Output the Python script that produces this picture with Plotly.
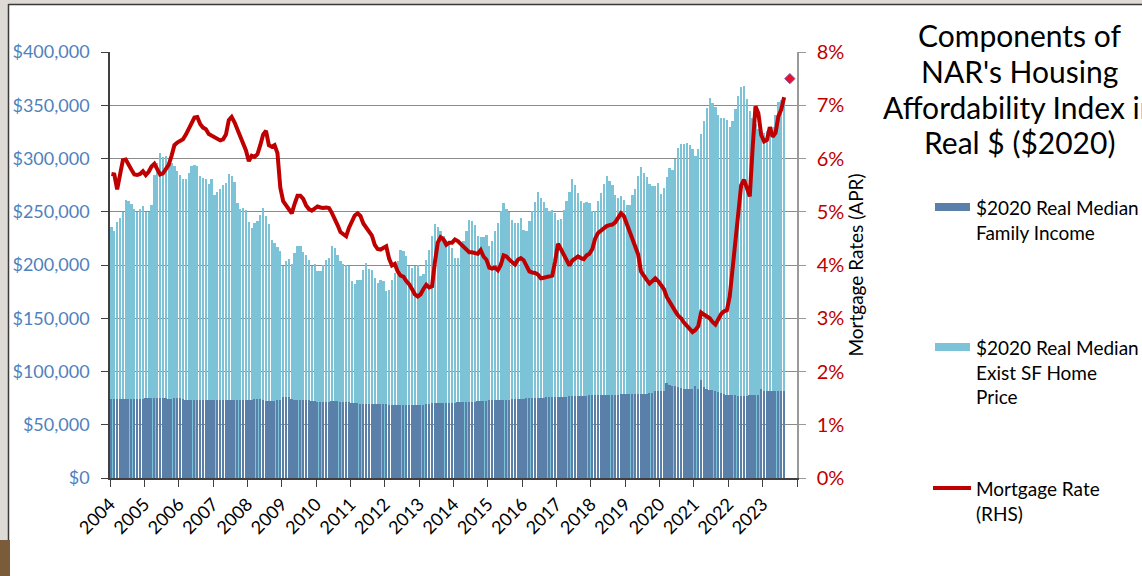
import plotly.graph_objects as go

# ---------------- data (monthly, Jan 2004 .. Aug 2023) ----------------
year_labels = [str(y) for y in range(2004, 2024)]

# $2020 real median existing single-family home price (thousands $)
home_price_k = [
    235.6, 231.9, 240.0, 243.8, 250.0, 260.6, 260.0, 257.5, 252.5, 250.0, 253.0, 255.0,  # 2004
    250.0, 250.0, 256.0, 284.7, 296.0, 305.0, 301.0, 302.0, 298.0, 295.6, 293.0, 288.0,  # 2005
    284.7, 280.6, 280.6, 286.0, 292.5, 294.0, 293.0, 284.0, 281.6, 280.6, 276.0, 280.6,  # 2006
    266.0, 269.0, 271.6, 274.7, 277.0, 285.4, 283.8, 278.4, 258.1, 252.5, 253.4, 251.9,  # 2007
    240.0, 234.7, 239.4, 241.0, 247.2, 253.4, 246.3, 238.4, 223.8, 220.6, 216.9, 212.8,  # 2008
    199.4, 203.4, 206.0, 201.3, 211.3, 218.1, 218.1, 211.9, 209.7, 205.0, 198.8, 201.3,  # 2009
    194.0, 194.0, 200.3, 205.0, 206.6, 217.5, 216.0, 209.7, 203.4, 201.3, 200.3, 199.0,  # 2010
    184.7, 182.5, 185.6, 185.6, 195.0, 201.9, 196.3, 195.0, 187.8, 183.1, 186.3, 184.7,  # 2011
    175.3, 176.3, 186.3, 192.5, 203.4, 214.4, 212.8, 208.1, 199.4, 197.2, 198.8, 200.3,  # 2012
    190.0, 191.9, 205.0, 213.8, 226.9, 238.8, 235.6, 231.6, 226.9, 223.8, 220.6, 216.0,  # 2013
    206.6, 206.6, 217.5, 222.2, 231.5, 242.5, 240.9, 237.8, 227.5, 226.3, 226.3, 228.4,  # 2014
    218.1, 222.8, 231.6, 239.4, 250.3, 258.1, 252.5, 249.4, 242.5, 239.4, 239.4, 244.0,  # 2015
    233.1, 231.6, 240.9, 250.3, 258.8, 268.1, 262.8, 258.8, 253.4, 250.3, 251.3, 248.8,  # 2016
    242.5, 243.1, 251.3, 259.7, 268.1, 280.6, 275.3, 267.5, 259.7, 258.1, 258.8, 258.1,  # 2017
    250.3, 250.3, 259.7, 267.5, 276.3, 283.8, 279.1, 275.0, 265.9, 262.8, 265.0, 261.3,  # 2018
    256.6, 256.6, 265.3, 271.6, 283.8, 292.2, 286.3, 283.1, 275.9, 274.4, 274.4, 276.9,  # 2019
    266.9, 271.9, 282.5, 291.3, 288.8, 299.4, 309.7, 313.4, 313.4, 315.0, 312.8, 308.8,  # 2020
    302.5, 308.8, 322.8, 335.3, 347.0, 356.5, 352.4, 348.7, 340.8, 337.7, 337.7, 336.2,  # 2021
    329.3, 335.5, 346.1, 358.7, 367.4, 368.4, 355.9, 345.0, 338.0, 332.0, 328.0, 326.0,  # 2022
    324.0, 326.0, 328.0, 330.0, 341.0, 353.0, 355.0, 352.0,                              # 2023
]

# $2020 real median family income (thousands $)
family_income_k = [
    74.0, 74.0, 74.0, 74.0, 74.0, 74.0, 74.0, 74.0, 74.0, 74.0, 74.3, 74.5,  # 2004
    74.8, 75.0, 75.2, 75.4, 75.4, 75.4, 75.0, 74.8, 74.6, 74.6, 75.4, 75.4,  # 2005
    75.0, 73.8, 73.5, 73.3, 73.3, 73.3, 73.3, 73.6, 73.6, 73.6, 73.4, 73.4,  # 2006
    73.4, 73.4, 73.4, 73.4, 73.3, 73.3, 73.3, 73.3, 73.2, 73.2, 73.2, 73.2,  # 2007
    73.2, 73.0, 74.6, 74.6, 74.2, 72.8, 72.5, 72.5, 72.5, 72.5, 72.8, 73.0,  # 2008
    76.2, 76.4, 76.0, 74.5, 73.5, 73.3, 73.0, 73.0, 72.8, 72.8, 72.6, 72.0,  # 2009
    71.8, 71.8, 71.8, 71.7, 71.7, 72.0, 72.0, 72.0, 71.8, 71.5, 71.4, 71.0,  # 2010
    70.5, 70.4, 70.0, 69.6, 69.4, 69.4, 69.4, 69.2, 69.2, 69.2, 69.2, 69.2,  # 2011
    69.2, 69.0, 69.0, 69.0, 68.8, 68.8, 68.6, 68.6, 68.6, 68.5, 68.5, 68.5,  # 2012
    68.6, 68.8, 69.2, 69.6, 70.0, 70.2, 70.4, 70.5, 70.6, 70.7, 70.7, 70.8,  # 2013
    70.8, 71.0, 71.1, 71.2, 71.3, 71.4, 71.5, 71.7, 72.0, 72.4, 72.6, 72.7,  # 2014
    72.8, 72.9, 73.0, 73.1, 73.2, 73.3, 73.4, 73.6, 74.0, 74.2, 74.3, 74.5,  # 2015
    74.6, 74.8, 75.0, 75.1, 75.2, 75.3, 75.3, 75.3, 75.6, 75.8, 76.0, 76.2,  # 2016
    76.2, 76.3, 76.4, 76.5, 76.6, 76.8, 76.9, 77.0, 77.0, 77.1, 77.3, 77.5,  # 2017
    77.6, 77.7, 77.8, 77.8, 77.9, 78.0, 78.1, 78.2, 78.3, 78.4, 78.5, 78.6,  # 2018
    78.7, 78.8, 78.9, 78.9, 79.0, 79.0, 79.1, 79.3, 79.6, 80.0, 81.5, 81.8,  # 2019
    82.0, 82.0, 89.5, 87.5, 86.5, 86.0, 85.5, 84.5, 84.0, 83.6, 83.6, 84.0,  # 2020
    86.5, 84.0, 92.0, 85.0, 83.5, 83.0, 82.5, 82.0, 80.5, 79.5, 78.5, 78.0,  # 2021
    77.8, 77.6, 77.5, 77.3, 77.2, 77.2, 77.3, 77.5, 77.6, 77.8, 78.0, 83.3,  # 2022
    81.5, 81.7, 81.8, 81.8, 81.8, 81.9, 82.0, 82.0,                          # 2023
]

# 30-year mortgage rate (%)
mortgage_rate = [
    5.71, 5.70, 5.42, 5.70, 5.97, 5.98, 5.90, 5.79, 5.70, 5.69, 5.71, 5.76,  # 2004
    5.69, 5.75, 5.85, 5.90, 5.80, 5.70, 5.72, 5.80, 5.88, 6.05, 6.25, 6.30,  # 2005
    6.33, 6.36, 6.45, 6.55, 6.65, 6.77, 6.78, 6.65, 6.58, 6.55, 6.46, 6.43,  # 2006
    6.42, 6.38, 6.34, 6.36, 6.45, 6.72, 6.78, 6.68, 6.55, 6.45, 6.32, 6.15,  # 2007
    5.95, 6.05, 6.03, 6.08, 6.25, 6.45, 6.52, 6.25, 6.22, 6.25, 6.10, 5.45,  # 2008
    5.20, 5.13, 5.05, 4.97, 5.15, 5.30, 5.30, 5.24, 5.12, 5.05, 5.02, 5.05,  # 2009
    5.10, 5.08, 5.07, 5.08, 5.07, 4.98, 4.88, 4.75, 4.62, 4.57, 4.54, 4.70,  # 2010
    4.82, 4.93, 4.97, 4.92, 4.78, 4.70, 4.65, 4.55, 4.38, 4.30, 4.29, 4.33,  # 2011
    4.35, 4.12, 3.99, 4.02, 3.88, 3.80, 3.78, 3.70, 3.64, 3.55, 3.45, 3.41,  # 2012
    3.45, 3.55, 3.63, 3.58, 3.60, 4.05, 4.42, 4.52, 4.48, 4.38, 4.42, 4.42,  # 2013
    4.48, 4.45, 4.40, 4.36, 4.30, 4.24, 4.24, 4.23, 4.21, 4.28, 4.16, 4.10,  # 2014
    3.95, 3.93, 3.95, 3.90, 4.00, 4.18, 4.16, 4.10, 4.06, 4.01, 4.10, 4.13,  # 2015
    4.09, 4.00, 3.88, 3.86, 3.85, 3.82, 3.75, 3.76, 3.78, 3.78, 3.80, 4.07,  # 2016
    4.40, 4.30, 4.20, 4.07, 3.99, 4.08, 4.12, 4.16, 4.13, 4.11, 4.18, 4.21,  # 2017
    4.30, 4.50, 4.60, 4.65, 4.69, 4.73, 4.75, 4.76, 4.80, 4.88, 4.97, 4.92,  # 2018
    4.78, 4.62, 4.52, 4.35, 4.20, 3.88, 3.79, 3.72, 3.65, 3.71, 3.75, 3.70,  # 2019
    3.63, 3.55, 3.40, 3.30, 3.22, 3.13, 3.05, 3.00, 2.92, 2.87, 2.80, 2.74,  # 2020
    2.78, 2.85, 3.11, 3.07, 3.03, 3.00, 2.93, 2.88, 2.98, 3.08, 3.13, 3.15,  # 2021
    3.41, 3.95, 4.55, 5.05, 5.50, 5.60, 5.45, 5.29, 6.20, 6.98, 6.85, 6.44,  # 2022
    6.32, 6.35, 6.59, 6.41, 6.48, 6.79, 6.92, 7.15,                          # 2023
]

# latest weekly rate marker (month index from Jan 2004, rate %)
latest_rate_month = 237
latest_rate_value = 7.5

title_lines = ["Components of", "NAR's Housing", "Affordability Index in", "Real $ ($2020)"]

# ---------------- figure ----------------
FONT = "Lato"
W, H = 1142, 576
L, R, T, B = 110, 797, 52, 478   # plot-area pixel box


def px_x(p):
    return (p - L) / (R - L)


def px_y(p):
    return (B - p) / (B - T)


n = len(home_price_k)
xpos = [i + 0.5 for i in range(n)]
home_price = [v * 1000 for v in home_price_k]
family_income = [v * 1000 for v in family_income_k]

LIGHT = "#7CC3D8"
DARK = "#5A7FA8"
RED = "#C00000"
BLUE_TXT = "#4F81BD"

fig = go.Figure()
fig.add_trace(go.Bar(x=xpos, y=home_price, width=0.8, marker=dict(color=LIGHT, line_width=0),
                     name="$2020 Real Median Exist SF Home Price", showlegend=False))
fig.add_trace(go.Bar(x=xpos, y=family_income, width=0.62, marker=dict(color=DARK, line_width=0),
                     name="$2020 Real Median Family Income", showlegend=False))
fig.add_trace(go.Scatter(x=xpos, y=mortgage_rate, yaxis="y2", mode="lines",
                         line=dict(color=RED, width=4), name="Mortgage Rate (RHS)", showlegend=False))
fig.add_trace(go.Scatter(x=[latest_rate_month + 0.5], y=[latest_rate_value], yaxis="y2", mode="markers",
                         marker=dict(symbol="diamond", size=8, color="#E8102A",
                                     line=dict(color="#8A5AA8", width=1)),
                         showlegend=False))

tickvals = [12 * i for i in range(len(year_labels))] + [240]
ticktext = year_labels + [""]

fig.update_layout(
    width=W, height=H,
    margin=dict(l=L, r=W - R, t=T, b=H - B, pad=0, autoexpand=False),
    paper_bgcolor="white", plot_bgcolor="white",
    barmode="overlay", bargap=0,
    font=dict(family=FONT, color="black"),
    xaxis=dict(range=[0, 240], tickmode="array", tickvals=tickvals, ticktext=ticktext, tickangle=-45,
               tickfont=dict(size=18, color="black"), showgrid=False, zeroline=False,
               showline=True, linecolor="#404040", linewidth=1.5, automargin=False,
               ticks="outside", ticklen=7, tickcolor="#404040"),
    yaxis=dict(range=[0, 400000], tickmode="linear", tick0=0, dtick=50000,
               tickformat="$,.0f", tickfont=dict(size=18, color=BLUE_TXT), ticklabelstandoff=8,
               showgrid=True, gridcolor="#8a8a8a", gridwidth=1, zeroline=False,
               showline=True, linecolor="#404040", linewidth=1.5, automargin=False,
               ticks="outside", ticklen=7, tickcolor="#404040"),
    yaxis2=dict(range=[0, 8], tickmode="linear", tick0=0, dtick=1, ticksuffix="%",
                overlaying="y", side="right", ticklabelstandoff=7, automargin=False,
                tickfont=dict(size=20, color=RED), showgrid=False, zeroline=False,
                showline=True, linecolor="#9a9a9a", linewidth=1.5,
                ticks="outside", ticklen=7, tickcolor="#9a9a9a",
                title=dict(text="Mortgage Rates (APR)", font=dict(size=19, color="black"), standoff=6)),
)

# slide frame (screenshot border)
shapes = [
    dict(type="rect", xref="paper", yref="paper", x0=px_x(0), x1=px_x(8), y0=px_y(576), y1=px_y(0),
         fillcolor="#DEDBD6", line_width=0, layer="below"),
    dict(type="rect", xref="paper", yref="paper", x0=px_x(0), x1=px_x(1142), y0=px_y(4), y1=px_y(0),
         fillcolor="#DEDBD6", line_width=0, layer="below"),
    dict(type="rect", xref="paper", yref="paper", x0=px_x(0), x1=px_x(10), y0=px_y(576), y1=px_y(540),
         fillcolor="#7A5C3A", line_width=0, layer="below"),
    dict(type="line", xref="paper", yref="paper", x0=px_x(8.5), x1=px_x(8.5), y0=px_y(540), y1=px_y(4),
         line=dict(color="#3a3a3a", width=1.5)),
    dict(type="line", xref="paper", yref="paper", x0=px_x(8.5), x1=px_x(1142), y0=px_y(4.5), y1=px_y(4.5),
         line=dict(color="#3a3a3a", width=1.5)),
    # legend keys
    dict(type="rect", xref="paper", yref="paper", x0=px_x(935), x1=px_x(970), y0=px_y(211), y1=px_y(203),
         fillcolor=DARK, line_width=0),
    dict(type="rect", xref="paper", yref="paper", x0=px_x(935), x1=px_x(970), y0=px_y(351), y1=px_y(343),
         fillcolor=LIGHT, line_width=0),
    dict(type="line", xref="paper", yref="paper", x0=px_x(933), x1=px_x(971), y0=px_y(488), y1=px_y(488),
         line=dict(color=RED, width=4)),
]
fig.update_layout(shapes=shapes)

annotations = []
for line_text, ypx in zip(title_lines, [35, 71, 107, 142]):
    annotations.append(dict(text=line_text, xref="paper", yref="paper", x=px_x(1020), y=px_y(ypx),
                            xanchor="center", yanchor="middle", showarrow=False,
                            font=dict(size=30, color="black", family=FONT)))
annotations += [
    dict(text="$2020 Real Median<br>Family Income", xref="paper", yref="paper",
         x=px_x(974), y=px_y(194), xanchor="left", yanchor="top", showarrow=False, align="left",
         font=dict(size=19, color="black", family=FONT)),
    dict(text="$2020 Real Median<br>Exist SF Home<br>Price", xref="paper", yref="paper",
         x=px_x(974), y=px_y(334), xanchor="left", yanchor="top", showarrow=False, align="left",
         font=dict(size=19, color="black", family=FONT)),
    dict(text="Mortgage Rate<br>(RHS)", xref="paper", yref="paper",
         x=px_x(974), y=px_y(475), xanchor="left", yanchor="top", showarrow=False, align="left",
         font=dict(size=19, color="black", family=FONT)),
]
fig.update_layout(annotations=annotations)

fig.write_html("out.html", config={"displayModeBar": False},
               post_script="document.body.style.margin='0';")
